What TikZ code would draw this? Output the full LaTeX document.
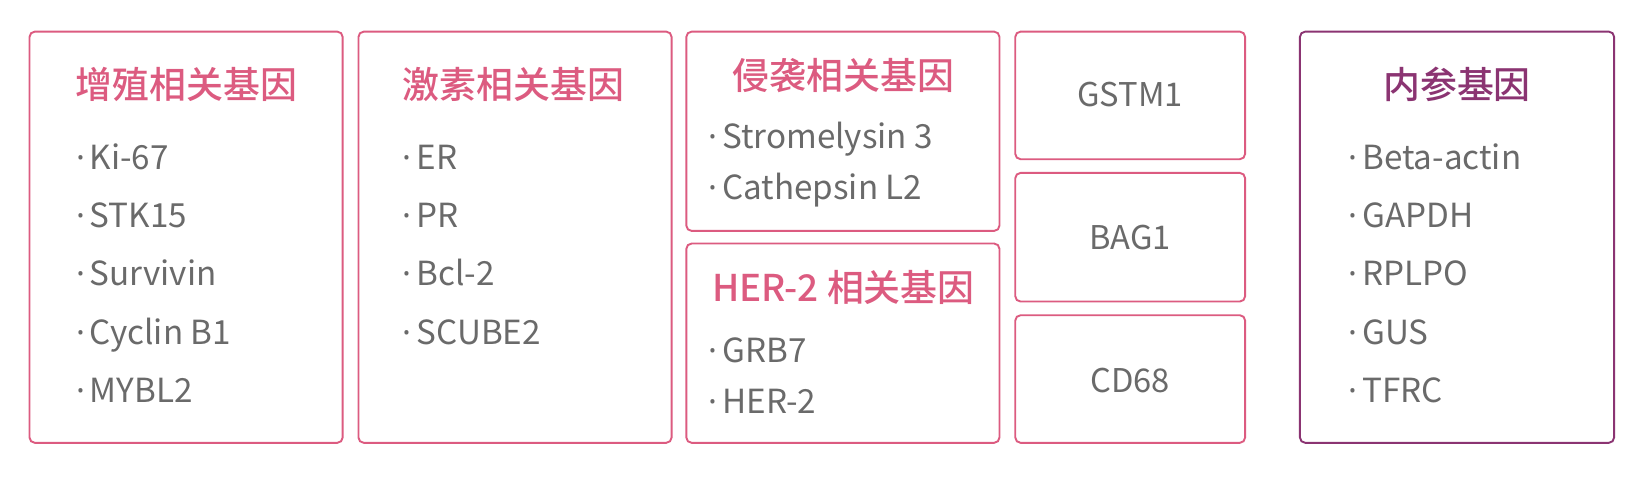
\documentclass[tikz,border=0pt]{standalone}
\usepackage{fontspec}
\setmainfont{Noto Sans CJK SC}
\newfontfamily\bulf{Noto Sans}
\IfFontExistsTF{Noto Sans CJK SC Medium}
  {\newfontfamily\ttlf{Noto Sans CJK SC Medium}}
  {\newfontfamily\ttlf{Noto Sans CJK SC}[UprightFont=*, UprightFeatures={FakeBold=0}]\let\ttlfx\ttlf\renewcommand{\ttlf}{\ttlfx\bfseries}}
\definecolor{pinkc}{HTML}{DC5B80}
\definecolor{purc}{HTML}{8B3472}
\definecolor{grayt}{HTML}{6A6A6A}
\newcommand{\bul}{{\bulf ·}\hspace{4.5pt}}
\tikzset{
  gbox/.style={draw=pinkc, line width=1.8pt, rounded corners=5pt, inner sep=0pt},
  pbox/.style={draw=purc, line width=1.8pt, rounded corners=5pt, inner sep=0pt},
  ttl/.style={text=pinkc, font=\fontsize{35}{40}\selectfont\ttlf, inner sep=0pt, anchor=center},
  pttl/.style={text=purc, font=\fontsize{35}{40}\selectfont\ttlf, inner sep=0pt, anchor=center},
  itm/.style={text=grayt, font=\fontsize{31.5}{36}\selectfont, inner sep=0pt, anchor=base west},
  one/.style={text=grayt, font=\fontsize{31}{36}\selectfont, inner sep=0pt, anchor=center}
}
\begin{document}
\begin{tikzpicture}[x=1pt,y=-1pt]
\useasboundingbox[fill=white] (0,0) rectangle (1566,459);
% boxes
\node[gbox, minimum width=297pt, minimum height=390pt] (b1) at (176.5,225) {};
\node[gbox, minimum width=297pt, minimum height=390pt] (b2) at (488.5,225) {};
\node[gbox, minimum width=297pt, minimum height=189pt] (b3a) at (799.5,124.5) {};
\node[gbox, minimum width=297pt, minimum height=189pt] (b3b) at (799.5,325.5) {};
\node[gbox, minimum width=218pt, minimum height=121pt] (b4a) at (1072,90.5) {};
\node[gbox, minimum width=218pt, minimum height=122pt] (b4b) at (1072,225) {};
\node[gbox, minimum width=218pt, minimum height=121pt] (b4c) at (1072,359.5) {};
\node[pbox, minimum width=298pt, minimum height=390pt] (b5) at (1382,225) {};
% titles
\node[ttl] (t1) at (177,80) {增殖相关基因};
\node[ttl] (t2) at (487,80) {激素相关基因};
\node[ttl] (t3a) at (800,72) {侵袭相关基因};
\node[ttl] (t3b) at (800,273) {HER-2 相关基因};
\node[pttl] (t5) at (1382,80) {内参基因};
% box 1 items
\node[itm] (i11) at (72,161) {\bul Ki-67};
\node[itm] (i12) at (72,216) {\bul STK15};
\node[itm] (i13) at (72,271) {\bul Survivin};
\node[itm] (i14) at (72,327) {\bul Cyclin B1};
\node[itm] (i15) at (72,382) {\bul MYBL2};
% box 2 items
\node[itm] (i21) at (382,161) {\bul ER};
\node[itm] (i22) at (382,216) {\bul PR};
\node[itm] (i23) at (382,271) {\bul Bcl-2};
\node[itm] (i24) at (382,327) {\bul SCUBE2};
% box 3a items
\node[itm] (i31) at (672,141) {\bul Stromelysin 3};
\node[itm] (i32) at (672,189) {\bul Cathepsin L2};
% box 3b items
\node[itm] (i33) at (672,344) {\bul GRB7};
\node[itm] (i34) at (672,392) {\bul HER-2};
% single boxes
\node[one] (g1) at (1072,90) {GSTM1};
\node[one] (g2) at (1072,225) {BAG1};
\node[one] (g3) at (1072,361) {CD68};
% box 5 items
\node[itm] (i51) at (1279,161) {\bul Beta-actin};
\node[itm] (i52) at (1279,216) {\bul GAPDH};
\node[itm] (i53) at (1279,271) {\bul RPLPO};
\node[itm] (i54) at (1279,327) {\bul GUS};
\node[itm] (i55) at (1279,382) {\bul TFRC};
\end{tikzpicture}
\end{document}
